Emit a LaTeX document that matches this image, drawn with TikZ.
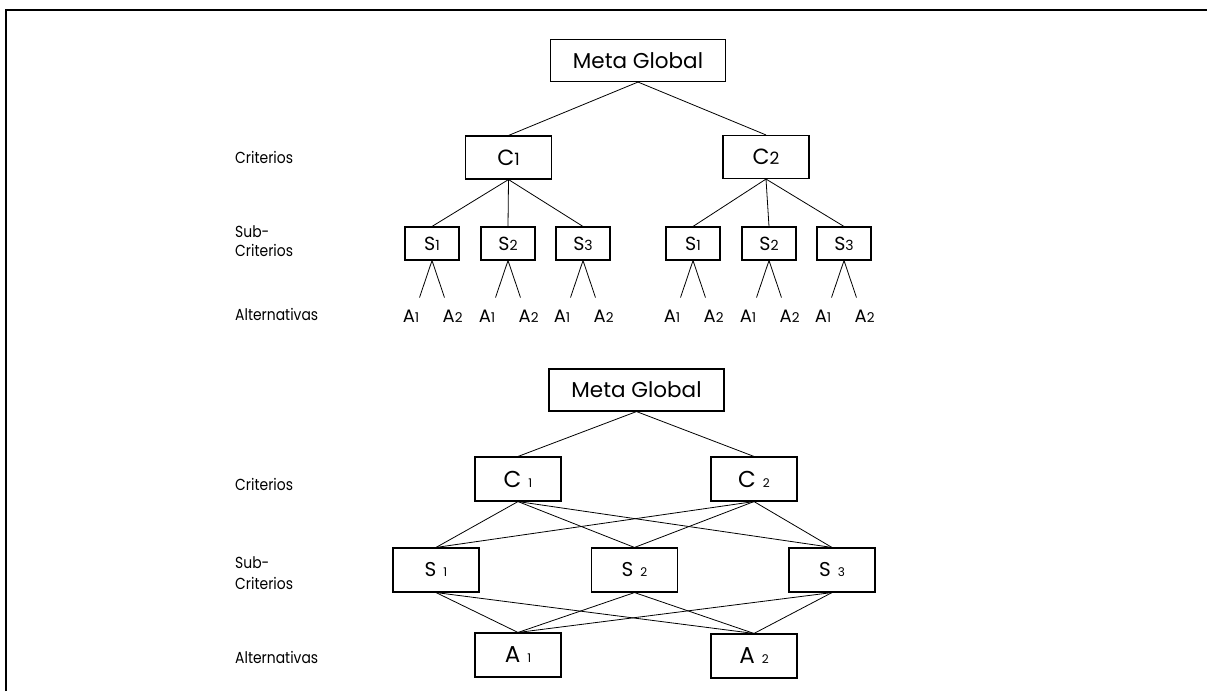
\documentclass[tikz,border=0pt]{standalone}
\usepackage{fontspec}
\setmainfont{Poppins}
\newfontfamily\sidefont{Poppins}[FakeStretch=0.87]
\usetikzlibrary{calc}
% small index digit set at a given size
\newcommand\idx[2]{{\fontsize{#1}{#1}\selectfont #2}}
\tikzset{
  box/.style={draw, line width=1.1pt, inner sep=0pt},
  link/.style={line width=0.8pt},
  frame/.style={line width=2pt},
  lab/.style={anchor=base west, inner sep=0pt, font=\sidefont\fontsize{16}{19}\selectfont},
  goalbox/.style={box, minimum width=175, minimum height=42, font=\fontsize{21.5}{24}\selectfont},
  cbox/.style={box, minimum width=86, minimum height=43, font=\fontsize{22}{24}\selectfont},
  sbox/.style={box, minimum width=54, minimum height=33, font=\fontsize{19}{22}\selectfont},
  alab/.style={inner sep=0pt, font=\fontsize{18}{20}\selectfont},
  lbox/.style={box, minimum width=86, minimum height=44, font=\fontsize{23}{26}\selectfont},
}
\begin{document}
\begin{tikzpicture}[x=1pt, y=-1pt]
\useasboundingbox (0,0) rectangle (1207,691);
\draw[frame] (5.5,691) -- (5.5,10) -- (1207,10);

% ---------- strict hierarchy ----------
\node[lab] (t1) at (235,163) {Criterios};
\node[lab] (t2) at (235,237) {Sub-};
\node[lab] (t3) at (235,256) {Criterios};
\node[lab] (t4) at (235,320) {Alternativas};

\node[goalbox] (g1) at (638,60.5) {Meta Global};
\node[cbox] (c1) at (508.5,157.5) {C\idx{17}{1}};
\node[cbox] (c2) at (766,157) {C\idx{17}{2}};

\node[sbox] (s11) at (432,243.5) {S\idx{14}{1}};
\node[sbox] (s12) at (508,243.5) {S\idx{14}{2}};
\node[sbox] (s13) at (583,243.5) {S\idx{14}{3}};
\node[sbox] (s21) at (693,243.5) {S\idx{14}{1}};
\node[sbox] (s22) at (769,243.5) {S\idx{14}{2}};
\node[sbox] (s23) at (844,243.5) {S\idx{14}{3}};

\draw[link] (g1.south) -- (c1.north);
\draw[link] (g1.south) -- (c2.north);
\foreach \s in {s11,s12,s13}{\draw[link] (c1.south) -- (\s.north);}
\foreach \s in {s21,s22,s23}{\draw[link] (c2.south) -- (\s.north);}

\foreach \s in {s11,s12,s13,s21,s22,s23}{
  \coordinate (\s-l) at ($(\s.south)+(-12.5,37)$);
  \coordinate (\s-r) at ($(\s.south)+(12.5,37)$);
  \draw[link] (\s-l) -- (\s.south) -- (\s-r);
  \node[alab, anchor=base east] (\s-a1) at ($(\s-l)+(0,25)$) {A\idx{13.5}{1}};
  \node[alab, anchor=base west] (\s-a2) at ($(\s-r)+(-2,25)$) {A\idx{13.5}{2}};
}

% ---------- network hierarchy ----------
\node[lab] (u1) at (235,490) {Criterios};
\node[lab] (u2) at (235,568) {Sub-};
\node[lab] (u3) at (235,589) {Criterios};
\node[lab] (u4) at (235,663) {Alternativas};

\node[goalbox] (g2) at (636.5,390) {Meta Global};
\node[lbox] (k1) at (518,479) {C\hspace{7pt}\idx{12}{1}};
\node[lbox] (k2) at (754,479) {C\hspace{7pt}\idx{12}{2}};
\node[lbox, font=\fontsize{20}{24}\selectfont] (m1) at (436,570) {S\hspace{7pt}\idx{12}{1}};
\node[lbox, font=\fontsize{20}{24}\selectfont] (m2) at (634.5,570) {S\hspace{7pt}\idx{12}{2}};
\node[lbox, font=\fontsize{20}{24}\selectfont] (m3) at (832,570) {S\hspace{7pt}\idx{12}{3}};
\node[lbox] (n1) at (518,655) {A\hspace{7pt}\idx{12}{1}};
\node[lbox] (n2) at (754,656) {A\hspace{7pt}\idx{12}{2}};

\draw[link] (g2.south) -- (k1.north);
\draw[link] (g2.south) -- (k2.north);
\foreach \k in {k1,k2}{
  \foreach \m in {m1,m2,m3}{\draw[link] (\k.south) -- (\m.north);}
}
\foreach \m in {m1,m2,m3}{
  \foreach \n in {n1,n2}{\draw[link] (\m.south) -- (\n.north);}
}
\end{tikzpicture}
\end{document}
